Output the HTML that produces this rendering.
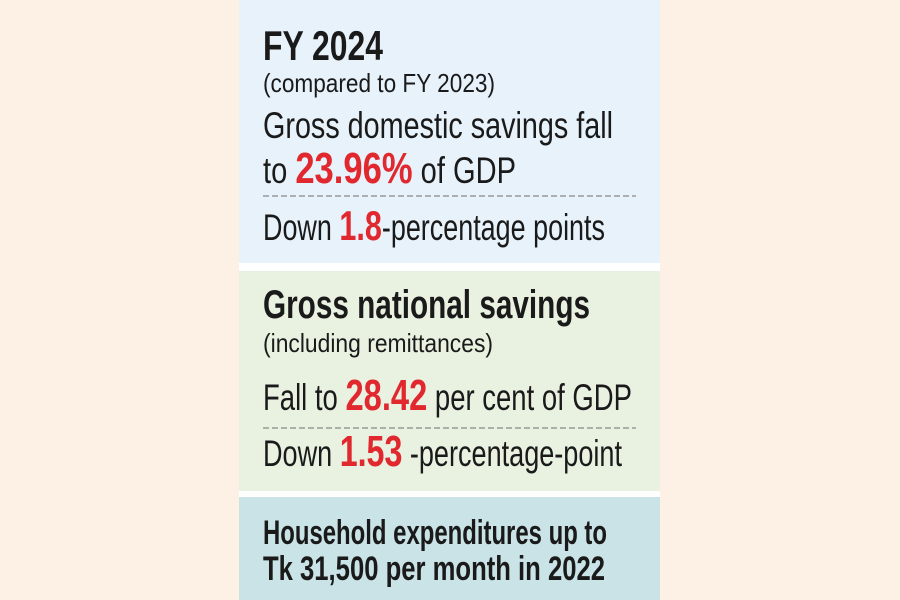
<!DOCTYPE html>
<html><head><meta charset="utf-8"><style>
html,body{margin:0;padding:0;background:#fdf1e6;}
svg{display:block}
text{font-family:"Liberation Sans Narrow","Liberation Sans",sans-serif;fill:#1a1a1a}
.r{fill:#e0282e;font-weight:bold}
</style></head><body>
<svg width="900" height="600" viewBox="0 0 900 600">
<rect width="900" height="600" fill="#fdf1e6"/>
<rect x="239" y="0" width="421" height="600" fill="#ffffff"/>
<rect x="239" y="0" width="421" height="263" fill="#e8f2fb"/>
<rect x="239" y="271" width="421" height="220" fill="#e9f2e1"/>
<rect x="239" y="497" width="421" height="103" fill="#c9e3e7"/>
<line x1="263" y1="196" x2="636" y2="196" stroke="#888" stroke-width="1.2" stroke-dasharray="6,3"/>
<line x1="263" y1="428" x2="636" y2="428" stroke="#888" stroke-width="1.2" stroke-dasharray="6,3"/>

<text x="263" y="60" font-size="42" font-weight="bold" textLength="120" lengthAdjust="spacingAndGlyphs">FY 2024</text>
<text x="263" y="92" font-size="26" textLength="232" lengthAdjust="spacingAndGlyphs">(compared to FY 2023)</text>
<text x="263" y="138" font-size="37" textLength="350" lengthAdjust="spacingAndGlyphs">Gross domestic savings fall</text>
<text x="263" y="183" font-size="37" textLength="253" lengthAdjust="spacingAndGlyphs">to <tspan class="r" font-size="44">23.96%</tspan> of GDP</text>
<text x="263" y="240" font-size="37" textLength="342" lengthAdjust="spacingAndGlyphs">Down <tspan class="r" font-size="42">1.8</tspan>-percentage points</text>

<text x="263" y="318" font-size="40" font-weight="bold" textLength="327" lengthAdjust="spacingAndGlyphs">Gross national savings</text>
<text x="263" y="352" font-size="26" textLength="230" lengthAdjust="spacingAndGlyphs">(including remittances)</text>
<text x="263" y="410" font-size="37" textLength="369" lengthAdjust="spacingAndGlyphs">Fall  to <tspan class="r" font-size="44">28.42</tspan> per cent of GDP</text>
<text x="263" y="466" font-size="37" textLength="359" lengthAdjust="spacingAndGlyphs">Down <tspan class="r" font-size="44">1.53</tspan> -percentage-point</text>

<text x="263" y="544" font-size="34" font-weight="bold" textLength="344" lengthAdjust="spacingAndGlyphs">Household expenditures up to</text>
<text x="263" y="580" font-size="34" font-weight="bold" textLength="342" lengthAdjust="spacingAndGlyphs">Tk 31,500 per month in 2022</text>
</svg>
</body></html>
